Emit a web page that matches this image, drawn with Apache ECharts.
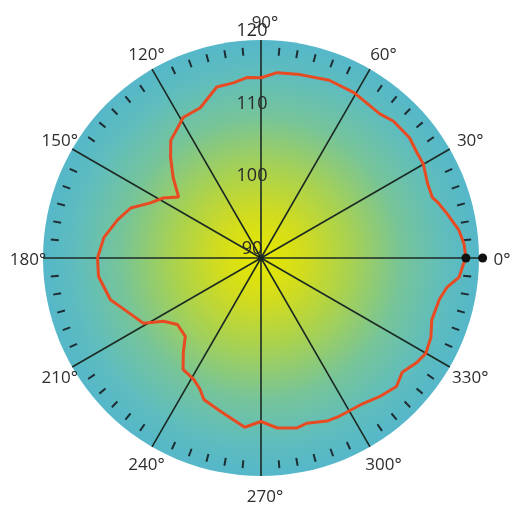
<!DOCTYPE html>
<html>
<head>
<meta charset="utf-8">
<script src="https://cdn.jsdelivr.net/npm/echarts@6/dist/echarts.min.js"></script>
<style>
  html, body { margin: 0; padding: 0; background: #ffffff; }
  #chart { width: 512px; height: 506px; }
</style>
</head>
<body>
<div id="chart"></div>
<script>
// Measured response pattern: angle (degrees) and level at that angle
const curveAngles = [0, 4, 8, 13.5, 17.5, 19.5, 24, 30, 34, 39, 46, 50.5, 60.5, 69, 78, 85, 90, 94.5, 99, 104.5,
  112, 119, 122.5, 127.5, 132, 137.5, 143.5, 148.5, 153.5, 159, 165, 172.5, 180, 186.5, 195.5, 202, 209, 213,
  218.5, 226, 230.5, 235, 241, 245, 248, 255, 264.5, 270, 275.5, 282, 285.5, 292, 296.5, 304, 310.5, 316.5, 321,
  326, 330, 335, 340, 347, 351, 354.5, 358.5, 360];
const curveValues = [118.2, 118.0, 117.5, 116.3, 115.5, 115.0, 115.1, 115.8, 115.9, 116.3, 116.2, 115.7, 116.1, 116.2, 115.8, 115.6, 114.8, 114.9, 114.4, 114.3,
  112.3, 112.1, 111.3, 110.4, 108.6, 106.4, 104.1, 105.8, 107.0, 109.2, 110.4, 111.8, 112.5, 112.5, 111.5, 109.8, 108.5, 106.0,
  104.7, 105.0, 106.8, 108.7, 109.1, 109.9, 111.0, 111.8, 113.4, 112.5, 113.5, 113.9, 113.6, 114.2, 114.3, 114.4, 115.1, 115.7, 115.0,
  115.8, 116.2, 115.8, 115.0, 115.2, 115.9, 117.4, 117.9, 118.2];

// Reference markers on the 0° spoke: [level, angle]
const markerPoints = [[118.2, 0], [120.5, 0]];

// Radial scale and angular grid
const radialMin = 90;
const radialMax = 120;
const radialStep = 10;
const angleStep = 30;
const angleTicks = [0, 30, 60, 90, 120, 150, 180, 210, 240, 270, 300, 330];
const angleTickLabels = ['0°', '30°', '60°', '90°', '120°', '150°', '180°', '210°', '240°', '270°', '300°', '330°'];

const CX = 261, CY = 258, R = 218;
const LABEL_RING = 237;   // px from the centre where angle labels are centred
const FONT = '"Open Sans", "Noto Sans", sans-serif';
const SPOKE = '#1c2a24';

const chart = echarts.init(document.getElementById('chart'), null, { renderer: 'canvas' });

const curveData = curveAngles.map((a, i) => [curveValues[i], a]);
const ringLevel = radialMin + LABEL_RING / R * (radialMax - radialMin);
const angleLabelData = angleTicks.map((a, i) => ({ name: angleTickLabels[i], value: [ringLevel, a] }));

chart.setOption({
  animation: false,
  backgroundColor: '#ffffff',
  polar: [
    { center: [CX, CY], radius: R },        // spokes and data
    { center: [CX, CY], radius: R - 7 },    // inset tick ring
    { center: [CX, CY], radius: R }         // vertical radial scale labels
  ],
  angleAxis: [
    {
      polarIndex: 0,
      type: 'value', min: 0, max: 360, interval: angleStep,
      startAngle: 0, clockwise: false,
      axisLine: { show: false },
      axisTick: { show: false },
      axisLabel: { show: false },
      splitLine: { show: true, lineStyle: { color: SPOKE, width: 1.6 } }
    },
    {
      polarIndex: 1,
      type: 'value', min: 0, max: 360, interval: angleStep,
      startAngle: 0, clockwise: false,
      axisLine: { show: false },
      axisTick: { show: false, inside: true },
      minorTick: { show: true, splitNumber: 6, length: 8, lineStyle: { color: '#1d2d33', width: 2 } },
      splitLine: { show: false },
      axisLabel: { show: false }
    },
    {
      polarIndex: 2,
      type: 'value', min: 0, max: 360,
      startAngle: 90,
      show: false
    }
  ],
  radiusAxis: [
    { polarIndex: 0, type: 'value', min: radialMin, max: radialMax, show: false },
    { polarIndex: 1, type: 'value', min: 0, max: 1, show: false },
    {
      polarIndex: 2,
      type: 'value', min: radialMin, max: radialMax, interval: radialStep,
      axisLine: { show: false },
      axisTick: { show: false },
      splitLine: { show: false },
      axisLabel: {
        show: true, margin: 9, align: 'center', verticalAlign: 'bottom',
        fontSize: 18, fontFamily: FONT, color: '#2a2a2a'
      },
      z: 5
    }
  ],
  series: [
    {
      // gradient disc behind the grid
      type: 'pie',
      center: [CX, CY],
      radius: [0, R],
      silent: true,
      z: -1,
      label: { show: false },
      labelLine: { show: false },
      itemStyle: {
        color: {
          type: 'radial', x: 0.5, y: 0.5, r: 0.5,
          colorStops: [
            { offset: 0, color: '#e8e800' },
            { offset: 0.2, color: '#d2dc1e' },
            { offset: 0.4, color: '#aad24e' },
            { offset: 0.65, color: '#76c49a' },
            { offset: 0.85, color: '#5fbdbd' },
            { offset: 1, color: '#55b7c9' }
          ]
        },
        borderWidth: 0
      },
      data: [{ value: 1 }]
    },
    {
      type: 'line',
      coordinateSystem: 'polar',
      polarIndex: 0,
      data: curveData,
      symbol: 'none',
      smooth: false,
      lineStyle: { color: '#e84a22', width: 3 },
      z: 3
    },
    {
      type: 'scatter',
      coordinateSystem: 'polar',
      polarIndex: 0,
      data: markerPoints,
      symbol: 'circle',
      symbolSize: 9,
      clip: false,
      itemStyle: { color: '#111111', opacity: 1 },
      z: 4
    },
    {
      // angle labels, centred on a ring outside the disc
      type: 'scatter',
      coordinateSystem: 'polar',
      polarIndex: 0,
      data: angleLabelData,
      symbol: 'circle',
      symbolSize: 1,
      clip: false,
      silent: true,
      itemStyle: { color: 'rgba(0,0,0,0)', opacity: 1 },
      label: {
        show: true, position: 'inside', offset: [4, 2],
        formatter: '{b}',
        fontSize: 17, fontFamily: FONT, color: '#2e2e2e'
      },
      z: 4
    }
  ]
});
</script>
</body>
</html>
